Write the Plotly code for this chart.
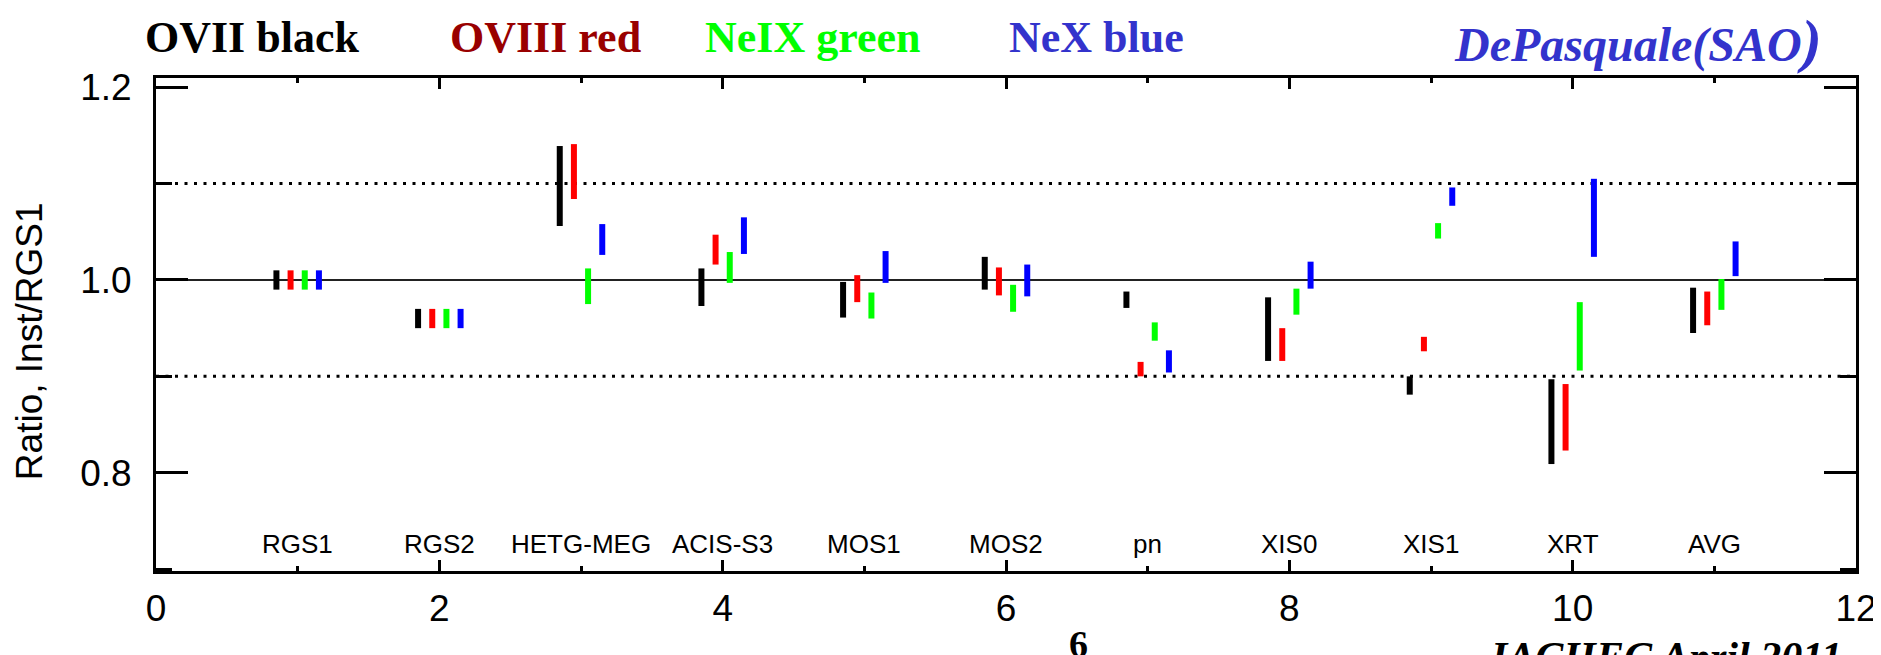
import plotly.graph_objects as go

# ---------------- data ----------------
instruments = ["RGS1", "RGS2", "HETG-MEG", "ACIS-S3", "MOS1", "MOS2",
               "pn", "XIS0", "XIS1", "XRT", "AVG"]

ovii_low  = [0.990, 0.950, 1.056, 0.973, 0.961, 0.990, 0.971, 0.916, 0.881, 0.809, 0.945]
ovii_high = [1.010, 0.970, 1.139, 1.012, 0.998, 1.024, 0.988, 0.982, 0.900, 0.897, 0.992]

oviii_low  = [0.990, 0.950, 1.084, 1.016, 0.977, 0.984, 0.900, 0.916, 0.926, 0.823, 0.953]
oviii_high = [1.010, 0.970, 1.141, 1.047, 1.005, 1.013, 0.915, 0.950, 0.941, 0.892, 0.988]

neix_low  = [0.990, 0.950, 0.975, 0.997, 0.960, 0.967, 0.937, 0.964, 1.043, 0.906, 0.969]
neix_high = [1.010, 0.970, 1.012, 1.029, 0.987, 0.995, 0.956, 0.991, 1.059, 0.977, 1.001]

nex_low  = [0.990, 0.950, 1.026, 1.027, 0.997, 0.983, 0.904, 0.991, 1.077, 1.024, 1.004]
nex_high = [1.010, 0.970, 1.058, 1.065, 1.030, 1.016, 0.927, 1.019, 1.096, 1.105, 1.040]

series = [
    ("OVII", ovii_low, ovii_high, "#000000", -0.15),
    ("OVIII", oviii_low, oviii_high, "#FF0000", -0.05),
    ("NeIX", neix_low, neix_high, "#00FF00", 0.05),
    ("NeX", nex_low, nex_high, "#0000FF", 0.15),
]

# ---------------- figure ----------------
W, H = 1881, 655
L, R, T, B = 148, 31, 70, 92
PW, PH = W - L - R, H - T - B


def px(x):
    return (x - L) / PW


def py(y):
    return (H - B - y) / PH


fig = go.Figure()

for name, lo, hi, col, off in series:
    xs, ys = [], []
    for i, (a, b) in enumerate(zip(lo, hi)):
        xi = i + 1 + off
        xs += [xi, xi, None]
        ys += [a, b, None]
    fig.add_trace(go.Scatter(x=xs, y=ys, mode="lines", name=name,
                             line=dict(color=col, width=6),
                             showlegend=False, hoverinfo="skip"))

shapes = [
    dict(type="line", xref="paper", yref="y", x0=0, x1=1, y0=1.0, y1=1.0,
         line=dict(color="#222222", width=2), layer="below"),
    dict(type="line", xref="paper", yref="y", x0=0, x1=1, y0=1.1, y1=1.1,
         line=dict(color="#000000", width=3, dash="3px,6.5px"), layer="below"),
    dict(type="line", xref="paper", yref="y", x0=0, x1=1, y0=0.9, y1=0.9,
         line=dict(color="#000000", width=3, dash="3px,6.5px"), layer="below"),
]

ann = []
# category labels inside the plot
for i, name in enumerate(instruments):
    ann.append(dict(x=i + 1, y=py(536), xref="x", yref="paper", text=name,
                    showarrow=False, xanchor="center", yanchor="middle",
                    font=dict(family="Liberation Sans", size=26, color="#000000")))

serif = "Liberation Serif"
heads = [
    ("<b>OVII black</b>", 135, "#000000"),
    ("<b>OVIII red</b>", 440, "#990000"),
    ("<b>NeIX green</b>", 696, "#00FF00"),
    ("<b>NeX blue</b>", 1000, "#3333CC"),
]
for txt, xl, col in heads:
    ann.append(dict(x=px(xl), y=py(30), xref="paper", yref="paper", text=txt,
                    showarrow=False, xanchor="left", yanchor="middle",
                    font=dict(family=serif, size=44, color=col)))

ann.append(dict(x=px(1446), y=py(33), xref="paper", yref="paper",
                text="<b><i>DePasquale(SAO</i></b><b><i><span style='font-size:60px'>)</span></i></b>",
                showarrow=False, xanchor="left", yanchor="middle",
                font=dict(family=serif, size=48, color="#3333CC")))

ann.append(dict(x=px(1072), y=py(636), xref="paper", yref="paper", text="<b>6</b>",
                showarrow=False, xanchor="center", yanchor="middle",
                font=dict(family=serif, size=38, color="#000000")))

ann.append(dict(x=px(1482), y=py(624), xref="paper", yref="paper",
                text="<b><i>IACHEC April 2011</i></b>",
                showarrow=False, xanchor="left", yanchor="top",
                font=dict(family=serif, size=42, color="#000000")))

ann.append(dict(x=px(21), y=py(333), xref="paper", yref="paper",
                text="Ratio, Inst/RGS1", textangle=-90,
                showarrow=False, xanchor="center", yanchor="middle",
                font=dict(family="Liberation Sans", size=37, color="#000000")))

fig.update_layout(
    width=W, height=H,
    margin=dict(l=L, r=R, t=T, b=B, pad=0),
    paper_bgcolor="white", plot_bgcolor="white",
    shapes=shapes, annotations=ann,
    showlegend=False,
)

fig.update_xaxes(
    range=[0, 12], tick0=0, dtick=2,
    showgrid=False, zeroline=False,
    showline=True, linecolor="black", linewidth=3, mirror="allticks",
    ticks="inside", ticklen=11, tickwidth=3, tickcolor="black",
    minor=dict(dtick=1, ticks="inside", ticklen=5, tickwidth=3, tickcolor="black", showgrid=False),
    tickfont=dict(family="Liberation Sans", size=37, color="black"),
    ticklabelstandoff=3,
)
fig.update_yaxes(
    range=[0.698, 1.2096], tick0=0.8, dtick=0.2, tickformat=".1f",
    showgrid=False, zeroline=False,
    showline=True, linecolor="black", linewidth=3, mirror="allticks",
    ticks="inside", ticklen=32, tickwidth=3, tickcolor="black",
    minor=dict(tick0=0.7, dtick=0.1, ticks="inside", ticklen=16, tickwidth=3, tickcolor="black", showgrid=False),
    tickfont=dict(family="Liberation Sans", size=37, color="black"),
    ticklabelstandoff=14,
)

fig.write_html("out.html")
